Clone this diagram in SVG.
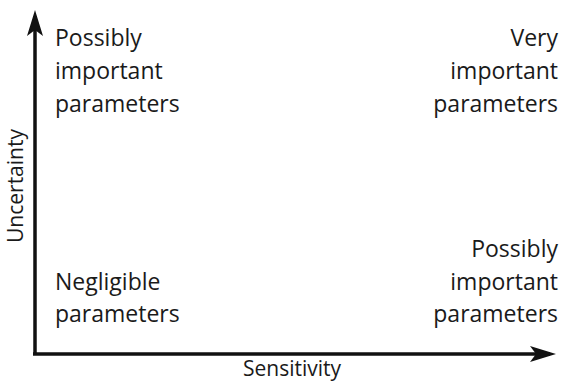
<svg xmlns="http://www.w3.org/2000/svg" width="565" height="383" viewBox="0 0 565 383">
<style>
.t{font-family:"Open Sans","Noto Sans",sans-serif;font-size:23px;fill:#1a1a1a}
.a{font-family:"Open Sans","Noto Sans",sans-serif;font-size:21px;fill:#1a1a1a;text-anchor:middle}
.ax{stroke:#111;stroke-width:3.5;fill:none}
.head{fill:#111}
.r{text-anchor:end}
</style>
<rect width="565" height="383" fill="#fff"/>
<g id="connectors">
<path class="ax" d="M35,354 L35,16"/>
<path class="head" d="M35,10 L43,36 L35,30 L27,36 Z"/>
<path class="ax" d="M33,354 L550,354"/>
<path class="head" d="M556,354 L530,346 L536,354 L530,362 Z"/>
</g>
<g id="axis-y"><text class="a" transform="translate(23,186) rotate(-90)">Uncertainty</text></g>
<g id="axis-x"><text class="a" x="292" y="376">Sensitivity</text></g>
<g id="top-left">
<text class="t" x="55" y="46">Possibly</text>
<text class="t" x="55" y="79">important</text>
<text class="t" x="55" y="112">parameters</text>
</g>
<g id="top-right">
<text class="t r" x="558" y="46">Very</text>
<text class="t r" x="558" y="79">important</text>
<text class="t r" x="558" y="112">parameters</text>
</g>
<g id="bottom-left">
<text class="t" x="55" y="290">Negligible</text>
<text class="t" x="55" y="322">parameters</text>
</g>
<g id="bottom-right">
<text class="t r" x="558" y="257">Possibly</text>
<text class="t r" x="558" y="290">important</text>
<text class="t r" x="558" y="322">parameters</text>
</g>
</svg>
